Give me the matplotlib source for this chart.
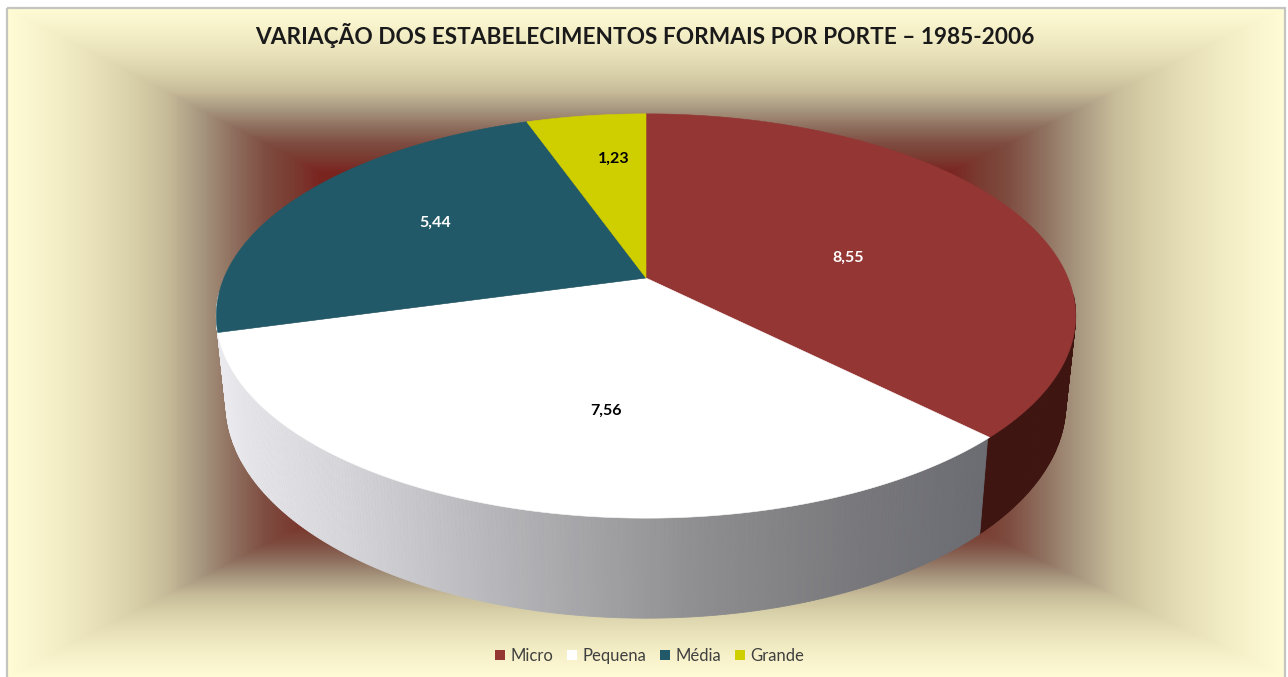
import numpy as np
import matplotlib
matplotlib.use('Agg')
import matplotlib.pyplot as plt
from matplotlib.colors import to_rgb
from matplotlib.patches import Patch, Rectangle

# Datos
titulo = 'VARIAÇÃO DOS ESTABELECIMENTOS FORMAIS POR PORTE – 1985-2006'
portes = ['Micro', 'Pequena', 'Média', 'Grande']
valores = [8.55, 7.56, 5.44, 1.23]
etiquetas = ['8,55', '7,56', '5,44', '1,23']

# Estilo
colores = ['#943634', '#ffffff', '#215968', '#cfcf00']
color_etiq = ['white', 'black', 'white', 'black']
pos_etiq = [(848, 258), (606, 411), (435, 223), (614, 159)]

plt.rcParams['font.family'] = ['Lato', 'DejaVu Sans']

fig = plt.figure(figsize=(12.88, 6.77), dpi=100)
ax = fig.add_axes([0, 0, 1, 1])

# Fondo: degradado rectangular desde el marco hacia un rectangulo interior
x0, x1, y0, y1 = 7, 1285, 8, 677
fx0, fx1, fy0, fy1 = 320, 950, 172, 516
xx, yy = np.meshgrid(np.arange(x0, x1) + 0.5, np.arange(y0, y1) + 0.5)
d = np.max([(fx0 - xx) / (fx0 - x0), (xx - fx1) / (x1 - fx1),
            (fy0 - yy) / (fy0 - y0), (yy - fy1) / (y1 - fy1)], axis=0)
d = np.clip(d, 0, 1)
paradas = [0, 0.08, 0.172, 0.273, 0.384, 0.494, 0.595, 0.706, 0.834, 1]
col_fondo = ['#7a2420', '#7a3a30', '#7e4c40', '#8e6e5e', '#a89880', '#c8bd9a',
             '#d8d0a8', '#e6dfb8', '#f4eec6', '#fffcd6']
rgb = np.array([to_rgb(c) for c in col_fondo])
fondo = np.dstack([np.interp(d, paradas, rgb[:, i]) for i in range(3)])
ax.imshow(fondo, extent=(x0, x1, y1, y0), interpolation='bilinear', zorder=0, aspect='auto')
ax.add_patch(Rectangle((x0, y0), x1 - x0, y1 - y0 + 5, fill=False, ec='#c4c4c0', lw=1.6, zorder=1))

# Proyeccion en perspectiva del disco (angulo medido desde arriba, sentido horario)
cx, k, ax_x, ax_y = 646, 0.188, 422, 195


def borde(theta, yc, sx=1.0, sy=1.0, r=1.0):
    u = r * np.sin(theta)
    v = r * np.cos(theta)
    den = 1 + k * v
    return cx + sx * ax_x * u / den, yc - sy * ax_y * v / den


yc_sup, yc_inf, sx_inf, sy_inf = 278, 363.6, 0.977, 1.06
limites = 2 * np.pi * np.concatenate([[0], np.cumsum(valores)]) / np.sum(valores)

# Pared lateral
th_pared = np.radians(np.arange(95, 266, 0.5))
px_sup, py_sup = borde(th_pared, yc_sup)
px_inf, py_inf = borde(th_pared, yc_inf, sx_inf, sy_inf)
for i in range(len(th_pared) - 1):
    xm = 0.5 * (px_inf[i] + px_inf[i + 1])
    if th_pared[i] < limites[1]:
        c = '#3f1512'
    else:
        t = [228, 350, 490, 700, 860, 985]
        c = [np.interp(xm, t, [0xea, 0xd6, 0xb8, 0x8e, 0x78, 0x6a]) / 255,
             np.interp(xm, t, [0xea, 0xd6, 0xb8, 0x8e, 0x78, 0x6c]) / 255,
             np.interp(xm, t, [0xee, 0xda, 0xbc, 0x90, 0x7c, 0x72]) / 255]
    ax.fill([px_sup[i], px_sup[i + 1], px_inf[i + 1], px_inf[i]],
            [py_sup[i], py_sup[i + 1], py_inf[i + 1], py_inf[i]],
            color=c, lw=0.6, zorder=2)

# Cara superior
for i in range(len(valores)):
    th = np.linspace(limites[i], limites[i + 1], 200)
    bx, by = borde(th, yc_sup)
    ax.fill(np.r_[cx, bx], np.r_[yc_sup, by], color=colores[i], lw=0.4, zorder=3)

for txt, c, (tx, ty) in zip(etiquetas, color_etiq, pos_etiq):
    ax.text(tx, ty, txt, color=c, fontsize=11.5, fontweight='bold',
            ha='center', va='center', zorder=4)

ax.text(645, 35, titulo, fontsize=16.3, fontweight='bold', color='#1a1a1a',
        ha='center', va='center', zorder=4)

handles = [Patch(facecolor=c, edgecolor='none', label=p) for c, p in zip(colores, portes)]
ax.legend(handles=handles, ncol=4, loc='center', bbox_to_anchor=(649.5, 656),
          bbox_transform=ax.transData, frameon=False, fontsize=12,
          labelcolor='#404040', handlelength=0.6, handleheight=0.6,
          handletextpad=0.3, columnspacing=0.85, borderpad=0)

ax.set_xlim(0, 1288)
ax.set_ylim(677, 0)
ax.axis('off')
fig.savefig('out.png', dpi=100, facecolor='white')
